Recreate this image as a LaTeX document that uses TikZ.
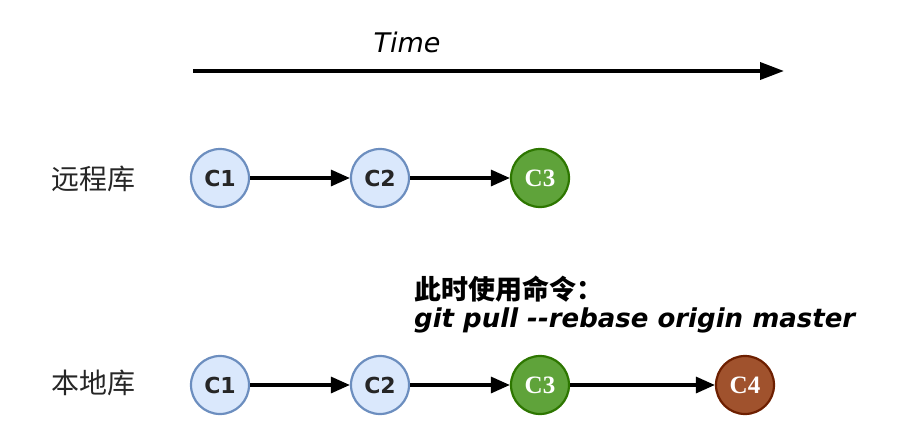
\documentclass[tikz,border=0pt]{standalone}
\usepackage{fontspec}
\setsansfont{DejaVu Sans}
\newfontfamily\cjk{Noto Sans CJK SC}
\newfontfamily\serifb{Liberation Serif}
\usetikzlibrary{arrows.meta}
\definecolor{bluefill}{HTML}{DAE8FC}
\definecolor{bluedraw}{HTML}{6C8EBF}
\definecolor{greenfill}{HTML}{5FA33A}
\definecolor{greendraw}{HTML}{2D7600}
\definecolor{redfill}{HTML}{A0522D}
\definecolor{reddraw}{HTML}{6D1F00}
\tikzset{
  commit/.style={circle, minimum size=58pt, inner sep=0pt, line width=2.2pt},
  bluec/.style={commit, fill=bluefill, draw=bluedraw, font=\sffamily\bfseries\fontsize{22}{22}\selectfont, text=black!85},
  greenc/.style={commit, fill=greenfill, draw=greendraw, font=\serifb\bfseries\fontsize{25}{25}\selectfont, text=white},
  redc/.style={commit, fill=redfill, draw=reddraw, font=\serifb\bfseries\fontsize{25}{25}\selectfont, text=white},
  link/.style={line width=3.2pt, -{Triangle[length=19pt,width=16pt]}},
  lbl/.style={font=\cjk\fontsize{28}{28}\selectfont, text=black!85},
}
\begin{document}
\begin{tikzpicture}[x=1pt,y=-1pt]
\useasboundingbox (0,0) rectangle (916,444);
\coordinate (ts) at (193,71);
\coordinate (te) at (784,71);
\draw[line width=3.8pt, -{Triangle[length=24pt,width=17pt]}] (ts) -- (te);
\node[font=\sffamily\itshape\fontsize{27}{27}\selectfont] (time) at (407,42) {Time};

\node[lbl] (remote) at (93,179) {远程库};
\node[lbl] (local) at (93,383) {本地库};

\node[bluec] (r1) at (220,178) {C1};
\node[bluec] (r2) at (380,178) {C2};
\node[greenc] (r3) at (540,178) {C3};
\draw[link] (r1) -- (r2);
\draw[link] (r2) -- (r3);

\node[bluec] (l1) at (220,385) {C1};
\node[bluec] (l2) at (380,385) {C2};
\node[greenc] (l3) at (540,385) {C3};
\node[redc] (l4) at (745,385) {C4};
\draw[link] (l1) -- (l2);
\draw[link] (l2) -- (l3);
\draw[link] (l3) -- (l4);

\node[anchor=west, font=\cjk\bfseries\fontsize{27}{27}\selectfont, inner sep=0pt] (cmdcn) at (414,289) {此时使用命令：};
\node[anchor=west, font=\sffamily\bfseries\itshape\fontsize{26}{26}\selectfont, inner sep=0pt] (cmd) at (414,320) {git pull -{}-rebase origin master};
\end{tikzpicture}
\end{document}
